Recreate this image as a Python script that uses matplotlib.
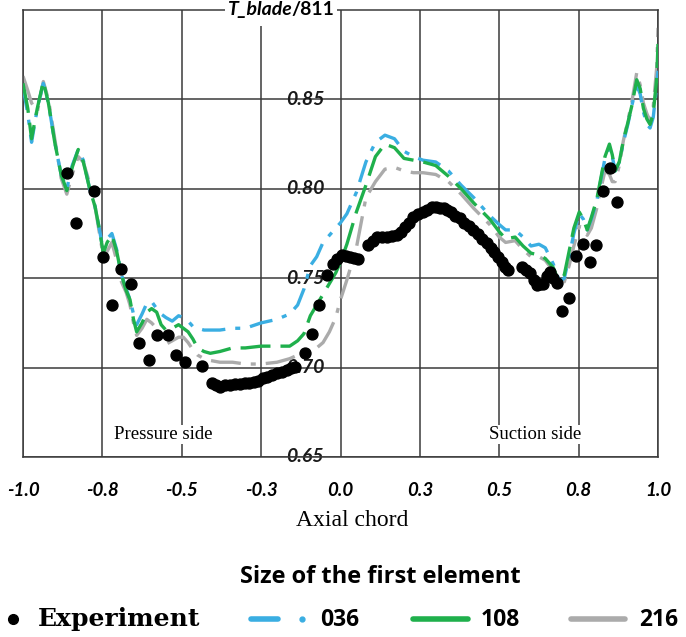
import matplotlib

matplotlib.use("Agg")
import matplotlib.pyplot as plt
from matplotlib.lines import Line2D
from matplotlib.patches import Rectangle

# simulated blade temperature for three first-element sizes
sim_x = [-1.0, -0.985, -0.973, -0.955, -0.936, -0.92, -0.90, -0.88, -0.862, -0.845, -0.826, -0.81, -0.79,
         -0.773, -0.76, -0.747, -0.735, -0.72, -0.705, -0.69, -0.675, -0.663, -0.652, -0.642, -0.625, -0.61,
         -0.595, -0.579, -0.565, -0.55, -0.53, -0.51, -0.495, -0.48, -0.465, -0.45, -0.43, -0.41, -0.38,
         -0.34, -0.30, -0.25, -0.20, -0.16, -0.135, -0.115, -0.095, -0.075, -0.055, -0.035, -0.015, 0.0,
         0.02, 0.05, 0.08, 0.11, 0.14, 0.17, 0.20, 0.23, 0.26, 0.30, 0.34, 0.38, 0.42, 0.47, 0.50, 0.52,
         0.55, 0.575, 0.60, 0.625, 0.645, 0.67, 0.69, 0.705, 0.72, 0.735, 0.752, 0.765, 0.777, 0.79, 0.807,
         0.82, 0.833, 0.847, 0.856, 0.865, 0.878, 0.891, 0.905, 0.917, 0.933, 0.944, 0.954, 0.965, 0.975,
         0.985, 0.996, 1.0]

t_036 = [0.857, 0.842, 0.826, 0.845, 0.859, 0.848, 0.826, 0.808, 0.800, 0.813, 0.822, 0.816, 0.800,
         0.790, 0.778, 0.765, 0.772, 0.775, 0.766, 0.752, 0.744, 0.738, 0.730, 0.724, 0.730, 0.736,
         0.737, 0.733, 0.730, 0.728, 0.726, 0.729, 0.728, 0.726, 0.723, 0.722, 0.721, 0.721, 0.721,
         0.722, 0.722, 0.725, 0.727, 0.730, 0.735, 0.744, 0.757, 0.762, 0.770, 0.774, 0.778, 0.781,
         0.786, 0.798, 0.815, 0.826, 0.830, 0.828, 0.821, 0.818, 0.816, 0.815, 0.810, 0.802, 0.795, 0.785,
         0.780, 0.777, 0.777, 0.773, 0.768, 0.769, 0.767, 0.758, 0.748, 0.750, 0.762, 0.775, 0.786, 0.783,
         0.777, 0.783, 0.793, 0.805, 0.817, 0.823, 0.818, 0.810, 0.815, 0.826, 0.836, 0.846, 0.858, 0.853,
         0.843, 0.836, 0.834, 0.840, 0.858, 0.866]

t_108 = [0.859, 0.845, 0.828, 0.845, 0.860, 0.848, 0.826, 0.808, 0.799, 0.812, 0.822, 0.815, 0.800,
         0.790, 0.778, 0.764, 0.770, 0.774, 0.765, 0.752, 0.743, 0.738, 0.727, 0.720, 0.725, 0.731,
         0.733, 0.731, 0.724, 0.721, 0.722, 0.724, 0.722, 0.720, 0.716, 0.711, 0.709, 0.708, 0.709,
         0.711, 0.711, 0.712, 0.712, 0.712, 0.715, 0.719, 0.729, 0.735, 0.741, 0.747, 0.753, 0.759,
         0.769, 0.787, 0.802, 0.818, 0.825, 0.823, 0.817, 0.816, 0.815, 0.813, 0.807, 0.800, 0.792, 0.783,
         0.776, 0.772, 0.773, 0.768, 0.764, 0.763, 0.761, 0.756, 0.747, 0.752, 0.765, 0.778, 0.787, 0.783,
         0.777, 0.784, 0.794, 0.806, 0.818, 0.825, 0.819, 0.810, 0.815, 0.827, 0.837, 0.846, 0.861, 0.856,
         0.845, 0.839, 0.836, 0.842, 0.862, 0.881]

t_216 = [0.863, 0.855, 0.848, 0.843, 0.860, 0.850, 0.828, 0.806, 0.797, 0.808, 0.818, 0.815, 0.803,
         0.790, 0.776, 0.762, 0.765, 0.770, 0.760, 0.748, 0.742, 0.735, 0.725, 0.718, 0.722, 0.727,
         0.725, 0.722, 0.716, 0.713, 0.715, 0.717, 0.717, 0.714, 0.710, 0.707, 0.705, 0.704, 0.703,
         0.703, 0.702, 0.702, 0.703, 0.705, 0.707, 0.708, 0.709, 0.711, 0.714, 0.720, 0.728, 0.738,
         0.749, 0.767, 0.795, 0.804, 0.811, 0.812, 0.810, 0.809, 0.809, 0.808, 0.804, 0.797, 0.789, 0.780,
         0.773, 0.770, 0.771, 0.766, 0.762, 0.762, 0.760, 0.754, 0.746, 0.748, 0.757, 0.768, 0.779, 0.778,
         0.774, 0.778, 0.789, 0.800, 0.810, 0.808, 0.804, 0.804, 0.813, 0.827, 0.838, 0.848, 0.865, 0.858,
         0.848, 0.842, 0.838, 0.846, 0.868, 0.890]

# measured points
exp_x = [-0.862, -0.833, -0.776, -0.747, -0.719, -0.691, -0.661, -0.634, -0.602, -0.577, -0.544, -0.519,
         -0.489, -0.435, -0.406, -0.392, -0.380, -0.364, -0.348, -0.332, -0.317, -0.302, -0.287, -0.273,
         -0.259, -0.245, -0.232, -0.216, -0.201, -0.185, -0.169, -0.156, -0.143, -0.112, -0.089, -0.067,
         -0.043, -0.023, -0.010, 0.004, 0.017, 0.030, 0.043, 0.056, 0.088, 0.101, 0.114, 0.130, 0.146,
         0.161, 0.177, 0.190, 0.203, 0.216, 0.229, 0.245, 0.261, 0.274, 0.287, 0.300, 0.313, 0.326,
         0.334, 0.347, 0.362, 0.376, 0.390, 0.404, 0.418, 0.432, 0.446, 0.460, 0.473, 0.485, 0.497,
         0.508, 0.519, 0.529, 0.571, 0.584, 0.597, 0.608, 0.618, 0.629, 0.639, 0.650, 0.660, 0.670,
         0.681, 0.697, 0.721, 0.742, 0.765, 0.786, 0.805, 0.828, 0.849, 0.870]
exp_y = [0.809, 0.781, 0.799, 0.762, 0.735, 0.755, 0.747, 0.714, 0.704, 0.718, 0.718, 0.707,
         0.703, 0.701, 0.6915, 0.690, 0.689, 0.690, 0.6905, 0.691, 0.691, 0.6912, 0.6915, 0.692,
         0.6927, 0.694, 0.695, 0.696, 0.697, 0.6977, 0.6986, 0.6995, 0.7005, 0.708, 0.719, 0.735,
         0.752, 0.758, 0.7605, 0.763, 0.7625, 0.762, 0.7615, 0.761, 0.7685, 0.771, 0.773, 0.773, 0.773,
         0.7735, 0.774, 0.776, 0.7787, 0.781, 0.7843, 0.786, 0.787, 0.788, 0.7896, 0.790, 0.7895, 0.789,
         0.788, 0.787, 0.785, 0.7834, 0.781, 0.779, 0.777, 0.7745, 0.772, 0.7695, 0.767, 0.7645, 0.762,
         0.759, 0.7565, 0.7545, 0.7564, 0.7545, 0.7527, 0.749, 0.746, 0.7465, 0.747, 0.751, 0.7536, 0.750,
         0.7475, 0.7316, 0.739, 0.7624, 0.769, 0.7588, 0.7685, 0.7987, 0.8114, 0.7927]

x_ticks = [-1.0, -0.75, -0.5, -0.25, 0.0, 0.25, 0.5, 0.75, 1.0]
x_tick_labels = ["-1.0", "-0.8", "-0.5", "-0.3", "0.0", "0.3", "0.5", "0.8", "1.0"]
y_ticks = [0.65, 0.70, 0.75, 0.80, 0.85]
y_tick_labels = ["0.65", "0.70", "0.75", "0.80", "0.85"]

series_labels = ["036", "108", "216"]
series_colors = ["#3aaee2", "#1fb04c", "#ababab"]

GRID = "#3a3a3a"
TICK_FONT = ["Lato", "DejaVu Sans"]
SANS = ["Open Sans", "DejaVu Sans"]
SERIF = ["Liberation Serif", "DejaVu Serif"]

W, H = 686, 637


def fx(px):
    return px / W


def fy(py):
    return 1 - py / H


def draw_legend(fig):
    fig.text(fx(380), fy(577), "Size of the first element", ha="center", va="center",
             fontsize=17, fontweight="bold", family=SANS)
    row = fy(619)
    fig.add_artist(Line2D([fx(13)], [row], ls="none", marker="o", ms=7, color="black",
                          transform=fig.transFigure))
    fig.text(fx(38), row, "Experiment", ha="left", va="center", fontsize=18,
             fontweight="bold", family=["DejaVu Serif"])
    # 036: a dash followed by a dot
    fig.add_artist(Line2D([fx(251), fx(278)], [row, row], color=series_colors[0], lw=4,
                          solid_capstyle="round", transform=fig.transFigure))
    fig.add_artist(Line2D([fx(302)], [row], ls="none", marker="o", ms=3.5, color=series_colors[0],
                          transform=fig.transFigure))
    fig.add_artist(Line2D([fx(413), fx(468)], [row, row], color=series_colors[1], lw=4,
                          solid_capstyle="round", transform=fig.transFigure))
    fig.add_artist(Line2D([fx(571), fx(625)], [row, row], color=series_colors[2], lw=4,
                          solid_capstyle="round", transform=fig.transFigure))
    for px, lab in zip([320, 481, 639], series_labels):
        fig.text(fx(px), row - 0.002, lab, ha="left", va="center", fontsize=16.5,
                 fontweight="bold", family=SANS)


def main():
    fig = plt.figure(figsize=(W / 100, H / 100), dpi=100)
    ax = fig.add_axes([fx(23), fy(457), fx(658) - fx(23), fy(10) - fy(457)])

    ax.set_xlim(-1.0, 1.0)
    ax.set_ylim(0.65, 0.90)
    ax.set_xticks(x_ticks)
    ax.set_yticks(y_ticks)
    ax.grid(True, color=GRID, lw=1.1, zorder=0)
    ax.set_axisbelow(True)
    for sp in ax.spines.values():
        sp.set_color(GRID)
        sp.set_linewidth(1.1)
    ax.tick_params(length=0, pad=18)
    ax.set_xticklabels(x_tick_labels, fontfamily=TICK_FONT, fontweight="bold",
                       fontstyle="italic", fontsize=13.5)
    ax.set_yticklabels([])

    for yv, lab in zip(y_ticks, y_tick_labels):
        ax.text(-0.052, yv, lab, ha="right", va="center", fontsize=14, fontweight="bold",
                fontstyle="italic", family=TICK_FONT, color="#1a1a1a", zorder=1)

    ax.plot(sim_x, t_036, color=series_colors[0], lw=2.4, dashes=(7, 3, 1.5, 3), zorder=3)
    ax.plot(sim_x, t_108, color=series_colors[1], lw=2.4, dashes=(9, 3), zorder=4)
    ax.plot(sim_x, t_216, color=series_colors[2], lw=2.4, dashes=(9, 3, 1.5, 3), zorder=2)
    ax.scatter(exp_x, exp_y, s=62, color="black", zorder=5)

    # axis title sitting on the top border, on a white patch that breaks the frame
    ax.add_patch(Rectangle((0.318, 0.965), 0.176, 0.06, transform=ax.transAxes,
                           facecolor="white", edgecolor="none", clip_on=False, zorder=6))
    t1 = ax.text(-0.355, 0.90, "T_blade", ha="left", va="center", fontsize=14, fontweight="bold",
                 fontstyle="italic", family=TICK_FONT, zorder=7)
    ax.annotate("/811", xy=(1, 0.5), xycoords=t1, xytext=(-1, 0), textcoords="offset points",
                ha="left", va="center", fontsize=14, fontweight="bold", family=TICK_FONT, zorder=7)

    ax.text(-0.559, 0.6625, "Pressure side", ha="center", va="center", fontsize=13.5, family=SERIF,
            zorder=6, bbox=dict(facecolor="white", edgecolor="none", pad=1))
    ax.text(0.613, 0.6625, "Suction side", ha="center", va="center", fontsize=13.5, family=SERIF,
            zorder=6, bbox=dict(facecolor="white", edgecolor="none", pad=1))

    fig.text(fx(352), fy(521), "Axial chord", ha="center", va="center", fontsize=17, family=SERIF)

    draw_legend(fig)

    fig.savefig("out.png", dpi=100)
    plt.close(fig)


if __name__ == "__main__":
    main()
